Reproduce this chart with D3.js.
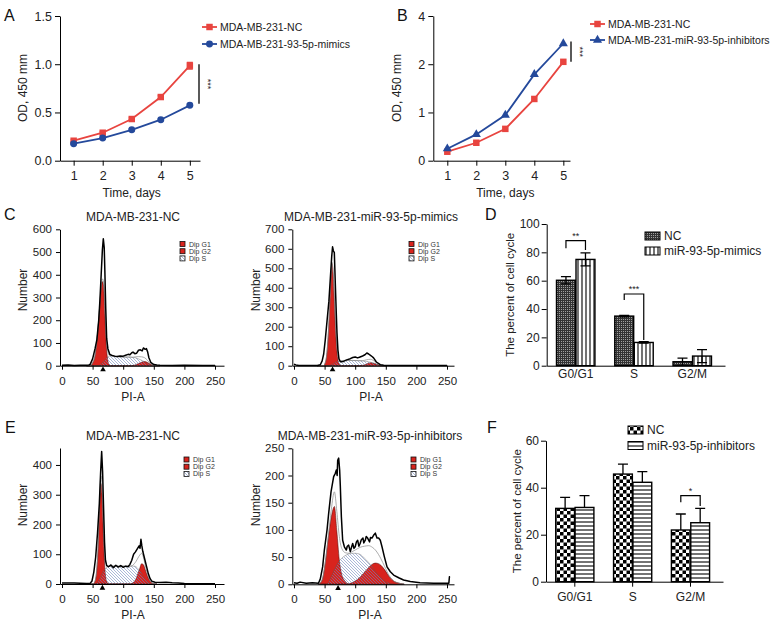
<!DOCTYPE html>
<html>
<head>
<meta charset="utf-8">
<script src="https://cdn.jsdelivr.net/npm/d3@7"></script>
<style>
body { margin: 0; background: #fff; }
svg { font-family: "Liberation Sans", Arial, Helvetica, sans-serif; }
.axis path, .axis line { stroke: #000; }
.axis text { fill: #222; }
</style>
</head>
<body>
<div id="chart-area"></div>
<script>
// A / B - proliferation
var days = [1, 2, 3, 4, 5];
var aNC = [0.207, 0.29, 0.432, 0.66, 0.985];
var aNCErr = [0.01, 0.012, 0.012, 0.015, 0.035];
var aMimics = [0.176, 0.235, 0.32, 0.425, 0.574];
var aMimicsErr = [0.008, 0.01, 0.01, 0.01, 0.012];
var aTicks = [0, 0.5, 1.0, 1.5];
var aSig = [0.59, 1.0];

var bNC = [0.186, 0.372, 0.66, 1.28, 2.05];
var bInh = [0.248, 0.545, 0.945, 1.79, 2.43];
var bTicks = [0, 1, 2, 3];
var bTickLabels = ['0', '1', '2', '4'];
var bSig = [2.05, 2.47];

// C / E - cell cycle histograms
var piTicks = [0, 50, 100, 150, 200, 250];

var cNC_env = [[0,2],[10,3],[20,1],[30,2],[40,2],[44,3],[46,6],[50,30],[54,75],[57,115],[60,200],[62,290],[64,400],[66,510],[67.5,558],[69,520],[70,420],[71.5,250],[73,120],[75,75],[78,50],[82,45],[86,42],[90,40],[95,43],[100,42],[104,46],[108,50],[111,48],[114,57],[116,60],[119,53],[122,55],[125,68],[128,70],[131,65],[133,78],[136,72],[138,75],[140,60],[142,35],[145,15],[150,5],[155,3],[160,2],[180,1],[200,2],[230,1],[250,1]];
var cNC_ch = [40,46,50,54,57,60,63,66,68,70,72,74,77,80,85,90,100,110,115,120,125,130,135,140,145,150,155,160];
var cNC_g1 = [0,0,12,45,110,200,310,370,350,230,110,40,5,0,0,0,0,0,0,0,0,0,0,0,0,0,0,0];
var cNC_g2 = [0,0,0,0,0,0,0,0,0,0,0,0,0,0,0,0,0,0,0,4,10,15,18,14,6,1,0,0];
var cNC_s = [0,0,0,0,0,0,5,12,18,25,32,38,42,44,42,40,38,38,37,35,30,24,17,9,3,0,0,0];

var cMim_env = [[0,8],[3,4],[8,1],[20,1],[38,1],[43,5],[46,25],[48.5,60],[51,130],[54,230],[57,330],[59.4,450],[61.6,560],[63,610],[64.3,590],[65.9,580],[67.5,420],[69.2,260],[70.2,170],[71.8,80],[73.5,35],[75.7,20],[81,22],[86,30],[92,36],[96,42],[100,45],[104,40],[108,45],[112,50],[116,56],[119,65],[122,60],[125,53],[128,46],[130,40],[134.6,19],[141,5],[146.6,2],[160,1],[200,1],[250,1]];
var cMim_ch = [38,44,48,52,55,58,60,62,64,66,68,70,72,75,78,82,88,95,105,112,118,125,132,138,142,146,152];
var cMim_g1 = [0,0,0,25,110,280,420,525,470,330,180,80,25,3,0,0,0,0,0,0,0,0,0,0,0,0,0];
var cMim_g2 = [0,0,0,0,0,0,0,0,0,0,0,0,0,0,0,0,0,0,0,2,8,15,10,4,1,0,0];
var cMim_s = [0,0,0,0,0,0,3,6,10,14,18,21,23,25,26,27,27,27,26,24,22,18,12,6,3,1,0];

var eNC_env = [[0,3],[20,3],[40,2],[46,2],[49,10],[52,40],[55,90],[58,170],[61,270],[63,370],[64.8,445],[66.3,380],[68,250],[69.5,140],[71,80],[73,62],[76,58],[80,64],[84,55],[88,63],[92,57],[96,62],[100,56],[104,60],[108,58],[111,66],[114,80],[117,100],[120,108],[123,118],[126,128],[127.5,120],[129,150],[130.5,128],[132,110],[135,85],[138,60],[141,35],[144,18],[147,9],[152,6],[160,5],[170,6],[180,4],[190,3],[200,2],[250,1]];
var eNC_ch = [46,50,53,56,59,61,63.5,65.5,67,69,71,73,76,80,90,100,110,115,118,121,124,127,130,133,136,139,142,146,150,155];
var eNC_g1 = [0,0,5,30,120,230,338,300,200,90,30,8,0,0,0,0,0,0,0,0,0,0,0,0,0,0,0,0,0,0];
var eNC_g2 = [0,0,0,0,0,0,0,0,0,0,0,0,0,0,0,0,0,2,8,18,35,52,68,65,48,30,16,5,1,0];
var eNC_s = [0,0,0,2,8,15,25,33,40,47,52,56,58,60,60,60,60,60,60,58,52,45,35,25,15,8,3,1,0,0];

var eInh_env = [[0,3],[5,2],[10,4],[20,2],[30,3],[40,2],[43,10],[46.8,32],[49.6,63],[54,100],[56.6,130],[60.5,170],[64.8,198],[67.5,204],[69.2,210],[70.5,200],[71.4,228],[73,232],[74.6,210],[75.7,180],[77.4,124],[79.5,81],[82.3,69],[85.5,63],[87,70],[89.3,72],[92,60],[94,68],[95.9,75],[98,66],[100,69],[102,78],[104,81],[106,70],[108,75],[110,82],[112.7,85],[114,76],[116.5,81],[118,88],[120.3,85],[123.5,78],[125,86],[127.4,85],[130,90],[132.9,94],[135.6,85],[138.3,85],[141,81],[143.8,69],[147.6,51],[152,32],[157.4,23],[162.8,17],[171,12],[179,8],[190,5],[206,3],[228,2],[250,2],[253,2],[254,14],[255,14]];
var eInh_ch = [40,46,51,56,61,66,70,74,78,84,90,95,100,108,115,122,128,133,138,142,148,155,163,172,180];
var eInh_g1 = [0,8,39,85,124,143,98,45,18,5,0,0,0,0,0,0,0,0,0,0,0,0,0,0,0];
var eInh_g2 = [0,0,0,0,0,0,0,0,0,0,1,3,6,13,22,31,37,39,38,35,27,15,6,2,0];
var eInh_s = [0,0,0,3,14,27,36,43,48,53,56,57,57,55,48,40,31,24,17,12,6,2,0,0,0];

var histLegend = ['Dip G1', 'Dip G2', 'Dip S'];

// D / F - cell cycle percentages
var phases = ['G0/G1', 'S', 'G2/M'];
var dNC = [60.3, 35, 2.8];
var dNCErr = [2.6, 0.5, 2.6];
var dMimics = [75, 16.4, 6.8];
var dMimicsErr = [4.6, 0.5, 4.6];
var dTicks = [0, 20, 40, 60, 80, 100];

var fNC = [31.2, 45.8, 22];
var fNCErr = [4.7, 4.2, 6.8];
var fInh = [31.6, 42.3, 25.1];
var fInhErr = [5, 4.5, 6.1];
var fTicks = [0, 20, 40, 60];


var width = 772;
var height = 626;
var red = '#e8443f';
var blue = '#24499b';
var histRed = '#d8231d';

var svg = d3.select('#chart-area')
	.append('svg')
	.attr('width', width)
	.attr('height', height);

var defs = svg.append('defs');

function pattern(id, w, h) {
	return defs.append('pattern')
		.attr('id', id)
		.attr('patternUnits', 'userSpaceOnUse')
		.attr('width', w)
		.attr('height', h);
}

var p = pattern('hatchS', 3, 3);
p.append('path').attr('d', 'M-1,-1L4,4M-1,2L1,4M2,-1L4,1')
	.attr('stroke', '#7088bd').attr('stroke-width', 0.6);

p = pattern('meshNC', 2, 2);
p.append('rect').attr('width', 2).attr('height', 2).attr('fill', '#333');
p.append('rect').attr('x', 1).attr('y', 1).attr('width', 1).attr('height', 1).attr('fill', '#a0a0a0');

p = pattern('vStripe', 4, 4);
p.append('rect').attr('width', 4).attr('height', 4).attr('fill', '#fff');
p.append('line').attr('x1', 2).attr('x2', 2).attr('y1', 0).attr('y2', 4).attr('stroke', '#000').attr('stroke-width', 1.1);

p = pattern('checker', 7, 7);
p.append('rect').attr('width', 7).attr('height', 7).attr('fill', '#fff');
p.append('rect').attr('width', 3.5).attr('height', 3.5).attr('fill', '#000');
p.append('rect').attr('x', 3.5).attr('y', 3.5).attr('width', 3.5).attr('height', 3.5).attr('fill', '#000');

p = pattern('hStripe', 4, 4);
p.append('rect').attr('width', 4).attr('height', 4).attr('fill', '#fff');
p.append('line').attr('x1', 0).attr('x2', 4).attr('y1', 2).attr('y2', 2).attr('stroke', '#000').attr('stroke-width', 1.1);


function letter(t, x, y) {
	svg.append('text').attr('x', x).attr('y', y).attr('font-size', 16).attr('fill', '#111').text(t);
}

function vLabel(t, x, y, size) {
	svg.append('text')
		.attr('transform', 'translate(' + x + ',' + y + ') rotate(-90)')
		.attr('text-anchor', 'middle')
		.attr('dy', '0.35em')
		.attr('font-size', size)
		.attr('fill', '#222')
		.text(t);
}

function hLabel(t, x, y, size) {
	svg.append('text').attr('x', x).attr('y', y)
		.attr('text-anchor', 'middle').attr('font-size', size).attr('fill', '#222').text(t);
}


// ---------- line charts ----------
function lineChart(o) {
	var x = d3.scaleLinear().domain(o.xDomain).range([o.left, o.right]);
	var y = d3.scaleLinear().domain([0, o.yMax]).range([o.bottom, o.top]);

	svg.append('g').attr('class', 'axis')
		.attr('transform', 'translate(0,' + o.bottom + ')')
		.call(d3.axisBottom(x).tickValues(days).tickFormat(d3.format('d')).tickSize(5).tickPadding(5).tickSizeOuter(0))
		.selectAll('text').attr('font-size', 12.5);

	svg.append('g').attr('class', 'axis')
		.attr('transform', 'translate(' + o.left + ',0)')
		.call(d3.axisLeft(y).tickValues(o.ticks).tickFormat(o.fmt).tickSize(5).tickPadding(3).tickSizeOuter(0))
		.selectAll('text').attr('font-size', 12.5);

	var line = d3.line().x((d, i) => x(days[i])).y(d => y(d));

	o.series.forEach(s => {
		var g = svg.append('g');
		g.append('path').datum(s.vals).attr('d', line)
			.attr('fill', 'none').attr('stroke', s.color).attr('stroke-width', 1.8);
		if (s.errs) {
			g.selectAll('.err').data(s.vals).enter().append('path')
				.attr('d', (d, i) => {
					var xx = x(days[i]), y0 = y(d - s.errs[i]), y1 = y(d + s.errs[i]);
					return 'M' + xx + ',' + y0 + 'V' + y1 + 'M' + (xx - 3) + ',' + y0 + 'H' + (xx + 3) + 'M' + (xx - 3) + ',' + y1 + 'H' + (xx + 3);
				})
				.attr('stroke', s.color).attr('stroke-width', 1.2).attr('fill', 'none');
		}
		g.selectAll('.pt').data(s.vals).enter().append('path')
			.attr('transform', (d, i) => 'translate(' + x(days[i]) + ',' + y(d) + ')')
			.attr('d', d3.symbol().type(s.shape).size(s.size))
			.attr('fill', s.color);
	});

	// legend
	o.series.forEach((s, i) => {
		var ly = o.legY + i * o.legStep;
		svg.append('line').attr('x1', o.legX).attr('x2', o.legX + 15).attr('y1', ly).attr('y2', ly)
			.attr('stroke', s.color).attr('stroke-width', 1.8);
		svg.append('path').attr('transform', 'translate(' + (o.legX + 7.5) + ',' + ly + ')')
			.attr('d', d3.symbol().type(s.shape).size(s.size)).attr('fill', s.color);
		svg.append('text').attr('x', o.legX + 18).attr('y', ly).attr('dy', '0.35em')
			.attr('font-size', 10.5).attr('fill', '#222').text(s.name);
	});

	// significance
	svg.append('line').attr('x1', o.sigX).attr('x2', o.sigX)
		.attr('y1', y(o.sig[0])).attr('y2', y(o.sig[1]))
		.attr('stroke', '#000').attr('stroke-width', 1.3);
	svg.append('text')
		.attr('transform', 'translate(' + (o.sigX + 6) + ',' + y((o.sig[0] + o.sig[1]) / 2) + ') rotate(90)')
		.attr('text-anchor', 'middle').attr('font-size', 9).attr('fill', '#222').text('***');

	hLabel('Time, days', (x(1) + x(5)) / 2, 197, 12);
	vLabel('OD, 450 mm', o.left - 37, 88, 12);
}

lineChart({
	left: 60, right: 200, top: 16, bottom: 160.7, xDomain: [0.53, 5.35], yMax: 1.5,
	ticks: aTicks, fmt: d3.format('.1f'),
	series: [
		{ name: 'MDA-MB-231-NC', vals: aNC, errs: aNCErr, color: red, shape: d3.symbolSquare, size: 42 },
		{ name: 'MDA-MB-231-93-5p-mimics', vals: aMimics, errs: aMimicsErr, color: blue, shape: d3.symbolCircle, size: 38 }
	],
	legX: 202, legY: 27, legStep: 17, sigX: 199, sig: aSig
});

lineChart({
	left: 433.3, right: 570, top: 16, bottom: 160.7, xDomain: [0.517, 5.23], yMax: 3,
	ticks: bTicks, fmt: (d, i) => bTickLabels[i],
	series: [
		{ name: 'MDA-MB-231-NC', vals: bNC, color: red, shape: d3.symbolSquare, size: 42 },
		{ name: 'MDA-MB-231-miR-93-5p-inhibitors', vals: bInh, color: blue, shape: d3.symbolTriangle, size: 36 }
	],
	legX: 590, legY: 24, legStep: 16, sigX: 571, sig: bSig
});


// ---------- histograms ----------
function histogram(o) {
	var x = d3.scaleLinear().domain([0, 250]).range([o.zeroX, o.zeroX + 153]);
	var xa = x.copy().domain([x.invert(o.left), x.invert(o.right)]).range([o.left, o.right]);
	var y = d3.scaleLinear().domain([0, o.yMax]).range([o.bottom, o.top]);

	var comp = o.ch.map((c, i) => ({ c: c, g1: o.g1[i], g2: o.g2[i], s: o.s[i] }));
	var area = k => d3.area().x(d => x(d.c)).y0(y(0)).y1(d => y(d[k])).curve(d3.curveMonotoneX);
	var g = svg.append('g');

	g.append('path').datum(comp).attr('d', area('s')).attr('fill', '#fff');
	g.append('path').datum(comp).attr('d', area('g1'))
		.attr('fill', histRed).attr('stroke', '#400').attr('stroke-width', 0.5);
	g.append('path').datum(comp).attr('d', area('g2'))
		.attr('fill', histRed).attr('stroke', '#400').attr('stroke-width', 0.5);
	g.append('path').datum(comp).attr('d', area('s'))
		.attr('fill', 'url(#hatchS)').attr('stroke', '#555').attr('stroke-width', 0.4);
	g.append('path').datum(comp)
		.attr('d', d3.line().x(d => x(d.c)).y(d => y(d.g1 + d.g2 + d.s)).curve(d3.curveMonotoneX))
		.attr('fill', 'none').attr('stroke', '#888').attr('stroke-width', 0.7);
	g.append('path').datum(o.env)
		.attr('d', d3.line().x(d => x(d[0])).y(d => y(d[1])))
		.attr('fill', 'none').attr('stroke', '#000').attr('stroke-width', 1.5).attr('stroke-linejoin', 'round');

	svg.append('g').attr('class', 'axis')
		.attr('transform', 'translate(0,' + o.bottom + ')')
		.call(d3.axisBottom(xa).tickValues(piTicks).tickSize(4).tickPadding(7).tickSizeOuter(0))
		.selectAll('text').attr('font-size', 11.5);

	svg.append('g').attr('class', 'axis')
		.attr('transform', 'translate(' + o.left + ',0)')
		.call(d3.axisLeft(y).tickValues(o.ticks).tickSize(4).tickPadding(4).tickSizeOuter(0))
		.selectAll('text').attr('font-size', 11.5);

	svg.append('path')
		.attr('transform', 'translate(' + x(o.mark) + ',' + (o.bottom + 4) + ')')
		.attr('d', d3.symbol().type(d3.symbolTriangle).size(14))
		.attr('fill', '#000');

	// legend
	var fills = [histRed, histRed, 'url(#hatchS)'];
	histLegend.forEach((t, i) => {
		var ly = o.legY + i * 7.2;
		svg.append('rect').attr('x', o.legX).attr('y', ly).attr('width', 5).attr('height', 5)
			.attr('fill', fills[i]).attr('stroke', '#111').attr('stroke-width', 0.8);
		svg.append('text').attr('x', o.legX + 9).attr('y', ly + 5)
			.attr('font-size', 7).attr('fill', '#333').text(t);
	});

	hLabel(o.title, o.titleX, o.titleY, 12);
	hLabel('PI-A', o.titleX, o.bottom + 35, 12);
	vLabel('Number', o.left - 37, o.labelY, 12);
}

histogram({
	zeroX: 62, left: 60, right: 224, bottom: 365.7, top: 229.3, yMax: 600, ticks: d3.range(0, 601, 100),
	env: cNC_env, ch: cNC_ch, g1: cNC_g1, g2: cNC_g2, s: cNC_s, mark: 67,
	title: 'MDA-MB-231-NC', titleX: 133, titleY: 221, legX: 180, legY: 241.5, labelY: 290
});

histogram({
	zeroX: 294, left: 292.3, right: 454, bottom: 365.7, top: 229.3, yMax: 700, ticks: d3.range(0, 701, 100),
	env: cMim_env, ch: cMim_ch, g1: cMim_g1, g2: cMim_g2, s: cMim_s, mark: 63,
	title: 'MDA-MB-231-miR-93-5p-mimics', titleX: 371, titleY: 221, legX: 409, legY: 241.5, labelY: 290
});

histogram({
	zeroX: 62, left: 60, right: 224, bottom: 584, top: 448, yMax: 457, ticks: d3.range(0, 401, 100),
	env: eNC_env, ch: eNC_ch, g1: eNC_g1, g2: eNC_g2, s: eNC_s, mark: 66,
	title: 'MDA-MB-231-NC', titleX: 133, titleY: 440, legX: 184, legY: 457, labelY: 505
});

histogram({
	zeroX: 294, left: 292.3, right: 454, bottom: 584.3, top: 448.3, yMax: 250, ticks: d3.range(0, 251, 50),
	env: eInh_env, ch: eInh_ch, g1: eInh_g1, g2: eInh_g2, s: eInh_s, mark: 72,
	title: 'MDA-MB-231-miR-93-5p-inhibitors', titleX: 370, titleY: 440, legX: 411, legY: 457, labelY: 505
});


// ---------- bar charts ----------
function barChart(o) {
	var x0 = d3.scaleBand().domain(phases).range([o.left, o.right])
		.paddingInner(0.34).paddingOuter(0.2).align(0.42);
	var x1 = d3.scaleBand().domain([0, 1]).range([0, x0.bandwidth()]).paddingInner(0.03);
	var y = d3.scaleLinear().domain([0, o.yMax]).range([o.bottom, o.top]);

	o.series.forEach((s, si) => {
		var g = svg.append('g');
		g.selectAll('rect').data(s.vals).enter().append('rect')
			.attr('x', (d, i) => x0(phases[i]) + x1(si))
			.attr('y', d => y(d))
			.attr('width', x1.bandwidth())
			.attr('height', d => o.bottom - y(d))
			.attr('fill', s.fill).attr('stroke', '#000').attr('stroke-width', 1.4);
		g.selectAll('path').data(s.vals).enter().append('path')
			.attr('d', (d, i) => {
				var xx = x0(phases[i]) + x1(si) + x1.bandwidth() / 2;
				var y1 = y(d + s.errs[i]);
				var y0 = o.twoSided ? y(d - s.errs[i]) : y(d);
				var path = 'M' + xx + ',' + y0 + 'V' + y1 + 'M' + (xx - 5) + ',' + y1 + 'H' + (xx + 5);
				if (o.twoSided) path += 'M' + (xx - 5) + ',' + y0 + 'H' + (xx + 5);
				return path;
			})
			.attr('stroke', '#000').attr('stroke-width', 1.3).attr('fill', 'none');
	});

	svg.append('g').attr('class', 'axis')
		.attr('transform', 'translate(0,' + o.bottom + ')')
		.call(d3.axisBottom(x0).tickSize(o.xTick).tickPadding(o.xPad).tickSizeOuter(0))
		.selectAll('text').attr('font-size', 12);

	svg.append('g').attr('class', 'axis')
		.attr('transform', 'translate(' + o.left + ',0)')
		.call(d3.axisLeft(y).tickValues(o.ticks).tickSize(5).tickPadding(2).tickSizeOuter(0))
		.selectAll('text').attr('font-size', 12);

	// significance brackets
	o.sig.forEach(b => {
		var xl = x0(b.phase) + x1(0) + x1.bandwidth() / 2;
		var xr = x0(b.phase) + x1(1) + x1.bandwidth() / 2;
		svg.append('path')
			.attr('d', 'M' + xl + ',' + y(b.left) + 'V' + y(b.top) + 'H' + xr + 'V' + y(b.right))
			.attr('fill', 'none').attr('stroke', '#000').attr('stroke-width', 1.2);
		svg.append('text').attr('x', (xl + xr) / 2).attr('y', y(b.top) - 2)
			.attr('text-anchor', 'middle').attr('font-size', 9).attr('fill', '#222').text(b.label);
	});

	o.series.forEach((s, i) => {
		var ly = o.legY + i * o.legStep;
		svg.append('rect').attr('x', o.legX).attr('y', ly - 4).attr('width', 15).attr('height', 8)
			.attr('fill', s.fill).attr('stroke', '#000').attr('stroke-width', 1);
		svg.append('text').attr('x', o.legX + 19).attr('y', ly).attr('dy', '0.35em')
			.attr('font-size', 12).attr('fill', '#222').text(s.name);
	});

	vLabel('The percent of cell cycle', o.labelX, (o.top + o.bottom) / 2, 11.5);
}

barChart({
	left: 546.7, right: 725, top: 224, bottom: 365.7, yMax: 100, ticks: dTicks, twoSided: true,
	xTick: 0, xPad: 4,
	series: [
		{ name: 'NC', vals: dNC, errs: dNCErr, fill: 'url(#meshNC)' },
		{ name: 'miR-93-5p-mimics', vals: dMimics, errs: dMimicsErr, fill: 'url(#vStripe)' }
	],
	sig: [
		{ phase: 'G0/G1', left: 82.8, top: 88.2, right: 81.6, label: '**' },
		{ phase: 'S', left: 46.4, top: 50.6, right: 18.1, label: '***' }
	],
	legX: 645, legY: 236, legStep: 15, labelX: 510
});

barChart({
	left: 546, right: 723, top: 440.7, bottom: 581.7, yMax: 60, ticks: fTicks, twoSided: false,
	xTick: 5, xPad: 6,
	series: [
		{ name: 'NC', vals: fNC, errs: fNCErr, fill: 'url(#checker)' },
		{ name: 'miR-93-5p-inhibitors', vals: fInh, errs: fInhErr, fill: 'url(#hStripe)' }
	],
	sig: [
		{ phase: 'G2/M', left: 33.8, top: 36.6, right: 32.2, label: '*' }
	],
	legX: 628, legY: 430, legStep: 15.5, labelX: 517
});

letter('A', 4, 21);
letter('B', 397, 21);
letter('C', 4, 220);
letter('D', 485, 220);
letter('E', 5, 433);
letter('F', 487, 433);
</script>
</body>
</html>
